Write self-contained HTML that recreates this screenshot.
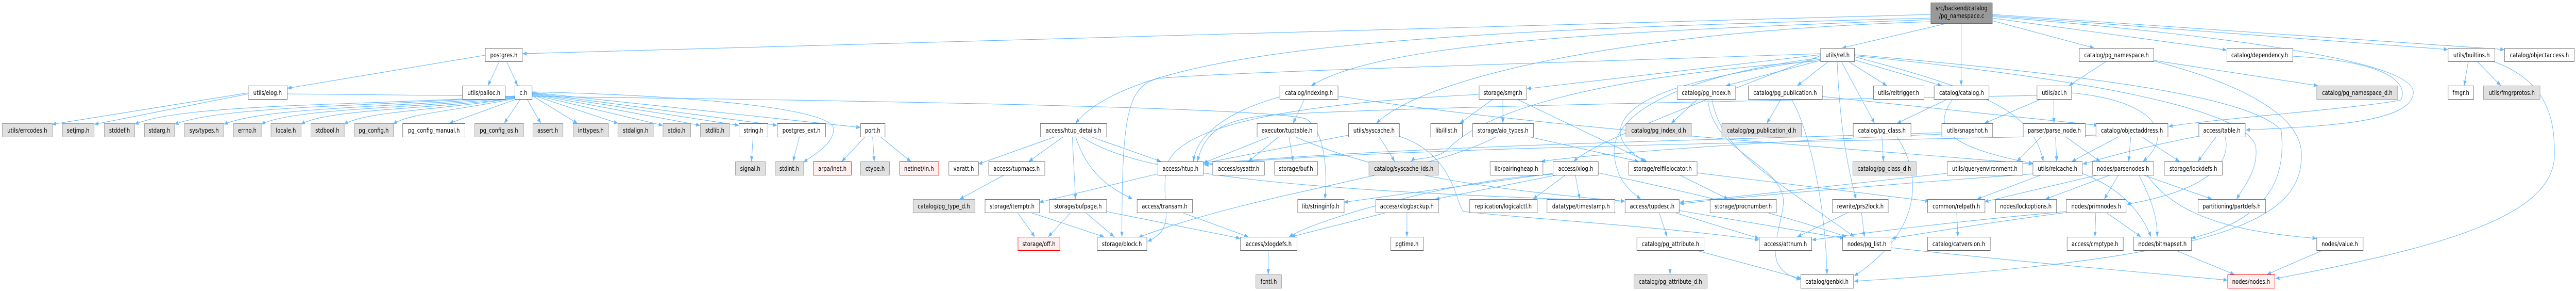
<!DOCTYPE html>
<html><head><meta charset="utf-8"><style>
html,body{margin:0;padding:0;background:#fff;overflow:hidden;}
svg{display:block;width:100vw;height:564px;}
text{font-family:"DejaVu Sans","Liberation Sans",sans-serif;font-size:12.7px;fill:#000;text-anchor:middle;}
.w{fill:#fff;stroke:#666;stroke-width:1;}
.g{fill:#e0e0e0;stroke:#999;stroke-width:1;}
.r{fill:#fff0f0;stroke:#f00;stroke-width:1;}
.root{fill:#999;stroke:#666;stroke-width:1;}
.e path{fill:none;stroke:#63b8ff;stroke-width:1.1;marker-end:url(#a);}
</style></head><body>
<svg xmlns="http://www.w3.org/2000/svg" width="6335" height="564" viewBox="0 0 6335 564" preserveAspectRatio="none">
<defs><marker id="a" markerWidth="10" markerHeight="8" refX="10" refY="4" orient="auto" markerUnits="userSpaceOnUse"><path d="M0,0 L10,4 L0,8 z" fill="#63b8ff"/></marker></defs>
<rect width="6335" height="564" fill="#fff"/>
<g class="e">
<path d="M4748,28 L1285,104"/>
<path d="M4748,35 C3500,60 2800,90 2645,239"/>
<path d="M4748,38 C4000,60 3400,80 3225,166"/>
<path d="M4750,42 C4000,60 3500,150 3385,239"/>
<path d="M4790,45 L4530,93"/>
<path d="M4823,45 L4823,166"/>
<path d="M4899,40 L5150,93"/>
<path d="M4899,35 L5476,97"/>
<path d="M4899,30 L6020,96"/>
<path d="M4899,28 L6159,96"/>
<path d="M4899,32 C5500,70 5940,120 5935,180 S5700,245 5523,252"/>
<path d="M1193,107 L707,171"/>
<path d="M1228,119 L1200,166"/>
<path d="M1246,119 L1273,166"/>
<path d="M610,180 L128,241"/>
<path d="M610,182 L232,241"/>
<path d="M706,182 C1800,190 3100,205 3210,230 C3260,250 3265,340 3258,386"/>
<path d="M1266,186 C900,205 450,200 331,241"/>
<path d="M1266,187 C900,207 550,205 429,241"/>
<path d="M1266,188 C950,209 650,208 550,241"/>
<path d="M1266,189 C1000,211 720,210 642,241"/>
<path d="M1266,190 C1050,212 800,212 740,241"/>
<path d="M1266,190 C1080,214 900,215 846,241"/>
<path d="M1266,191 C1120,215 1000,220 967,241"/>
<path d="M1270,192 L1105,239"/>
<path d="M1280,192 L1240,239"/>
<path d="M1296,192 L1330,239"/>
<path d="M1308,185 L1420,239"/>
<path d="M1308,184 L1520,239"/>
<path d="M1308,183 L1630,243"/>
<path d="M1308,182 L1722,243"/>
<path d="M1308,181 L1817,243"/>
<path d="M1308,180 L1911,243"/>
<path d="M1308,179 L2116,247"/>
<path d="M1308,178 C1700,185 2050,210 2050,250 C2050,280 2000,300 1976,315"/>
<path d="M1852,265 L1848,313"/>
<path d="M1966,265 L1950,313"/>
<path d="M2146,265 L2150,313"/>
<path d="M2165,265 L2240,313"/>
<path d="M2128,265 L2070,313"/>
<path d="M2595,265 L2406,318"/>
<path d="M2615,265 L2530,313"/>
<path d="M2637,265 L2645,386"/>
<path d="M2645,265 C2680,350 2750,370 2785,386"/>
<path d="M2683,265 L2855,313"/>
<path d="M2660,265 C2800,340 3200,370 3996,390"/>
<path d="M2470,339 L2360,386"/>
<path d="M2847,337 L2556,392"/>
<path d="M2502,412 L2545,459"/>
<path d="M2535,412 L2715,459"/>
<path d="M2633,412 L2578,459"/>
<path d="M2670,412 L2740,459"/>
<path d="M2721,410 L3050,462"/>
<path d="M2907,412 L3070,459"/>
<path d="M3119,485 L3119,532"/>
<path d="M3208,192 L3180,239"/>
<path d="M3147,188 C3000,220 2940,270 2935,313"/>
<path d="M3290,186 C3800,250 4600,290 4999,318"/>
<path d="M3122,265 L2959,316"/>
<path d="M3145,265 L3070,313"/>
<path d="M3170,265 L3180,313"/>
<path d="M3185,265 C3400,340 3700,370 3996,390"/>
<path d="M3316,262 L2962,316"/>
<path d="M3392,265 L3430,313"/>
<path d="M3441,264 C3580,300 3580,400 3600,410 C3700,420 4100,440 4326,465"/>
<path d="M3637,183 C3200,200 2900,240 2870,320 C2850,400 2900,440 2822,468"/>
<path d="M3672,192 L3590,239"/>
<path d="M3696,192 L3696,239"/>
<path d="M3730,192 L4050,313"/>
<path d="M3760,265 L4030,313"/>
<path d="M3680,265 C3500,340 3100,370 2800,460"/>
<path d="M4477,106 L3755,172"/>
<path d="M4477,112 C4100,150 3960,230 3970,300 C3975,350 4010,370 4035,386"/>
<path d="M4477,108 C4000,250 3900,290 3870,313"/>
<path d="M4477,104 C3700,125 3000,140 2850,152 C2770,165 2759,230 2759,459"/>
<path d="M4477,115 C4150,150 4000,190 3985,250 C3980,280 4020,300 4045,313"/>
<path d="M4477,117 L4245,166"/>
<path d="M4497,119 L4420,166"/>
<path d="M4518,119 C4525,250 4545,330 4565,386"/>
<path d="M4528,119 L4610,239"/>
<path d="M4545,119 L4640,166"/>
<path d="M4560,116 L4775,166"/>
<path d="M4560,110 C4900,180 5000,220 5025,313"/>
<path d="M4560,106 C5200,150 5534,190 5610,252 C5620,330 5600,420 5389,462"/>
<path d="M4560,108 C5100,150 5540,210 5548,288 C5552,330 5520,360 5500,386"/>
<path d="M4477,118 C3900,150 3640,220 3560,290 C3530,310 3480,305 3470,313"/>
<path d="M3819,336 L3305,392"/>
<path d="M3830,339 L3530,386"/>
<path d="M3819,338 C3600,345 3250,420 3170,459"/>
<path d="M3850,339 L3770,386"/>
<path d="M3874,339 L3885,386"/>
<path d="M3930,335 C4200,380 4400,420 4540,459"/>
<path d="M3410,412 L3175,459"/>
<path d="M3460,412 L3460,459"/>
<path d="M4173,335 L4745,390"/>
<path d="M4130,339 L4250,386"/>
<path d="M4080,412 L4100,459"/>
<path d="M4118,412 L4326,462"/>
<path d="M4129,408 L4535,462"/>
<path d="M4107,485 L4107,532"/>
<path d="M4170,485 L4430,540"/>
<path d="M4175,192 L4110,239"/>
<path d="M4210,192 C4230,290 4350,340 4560,459"/>
<path d="M4200,192 C4210,300 4400,320 4385,400 C4375,460 4330,520 4428,542"/>
<path d="M4380,192 L4345,239"/>
<path d="M4405,192 C4450,250 4490,400 4493,532"/>
<path d="M4481,187 L5160,243"/>
<path d="M4628,265 L4632,313"/>
<path d="M4665,265 C4720,330 4740,440 4560,535"/>
<path d="M4790,192 L4665,239"/>
<path d="M4802,192 C4750,250 4790,285 5000,317"/>
<path d="M5180,119 L5088,166"/>
<path d="M5296,117 L5700,166"/>
<path d="M5296,118 C5500,160 5660,220 5660,300 C5660,420 5500,500 4560,545"/>
<path d="M5009,185 C4300,195 3300,210 3100,225 C3000,235 2960,260 2945,313"/>
<path d="M5020,192 L4880,239"/>
<path d="M5051,192 L5051,239"/>
<path d="M5094,180 C5300,195 5350,260 5270,313"/>
<path d="M4775,257 C4300,270 3500,280 2960,318"/>
<path d="M4775,260 C4300,275 3900,300 3790,313"/>
<path d="M5020,265 L4960,313"/>
<path d="M5055,265 L5058,313"/>
<path d="M5080,265 L5165,313"/>
<path d="M5154,262 C4500,275 3400,285 2962,320"/>
<path d="M5210,265 L5095,313"/>
<path d="M5240,265 L5235,313"/>
<path d="M5267,265 L5360,313"/>
<path d="M5638,109 C5900,120 5920,170 5904,194 C5800,210 5450,230 5333,245"/>
<path d="M5407,264 C5300,280 5200,300 5122,318"/>
<path d="M5450,265 L5405,313"/>
<path d="M5472,265 C5490,320 5420,370 5230,396"/>
<path d="M4788,336 C4500,360 4300,380 4131,392"/>
<path d="M4999,337 C4600,360 4300,380 4131,395"/>
<path d="M5020,339 L4862,386"/>
<path d="M5120,336 C5200,360 5260,400 5290,459"/>
<path d="M5160,339 L4880,391"/>
<path d="M5190,339 L5030,386"/>
<path d="M5210,339 L5175,386"/>
<path d="M5270,339 L5440,386"/>
<path d="M5260,339 C5300,400 5305,430 5305,459"/>
<path d="M5280,339 C5350,420 5500,450 5697,462"/>
<path d="M5081,410 C4800,430 4600,450 4456,465"/>
<path d="M5081,412 C4900,430 4750,450 4652,462"/>
<path d="M5154,412 L5152,459"/>
<path d="M5180,412 L5265,459"/>
<path d="M4545,412 L4420,459"/>
<path d="M4578,412 L4585,459"/>
<path d="M4812,412 L4815,459"/>
<path d="M4650,480 C5000,510 5300,530 5478,543"/>
<path d="M5350,485 L5495,532"/>
<path d="M5712,485 L5575,532"/>
<path d="M6070,119 L6060,166"/>
<path d="M6092,119 L6150,166"/>
<path d="M6131,119 C6280,160 6282,250 6282,300 C6282,420 6000,480 5596,540"/>
</g>

<!-- root -->
<rect class="root" x="4748.5" y="5.5" width="151" height="40"/>
<text x="4824" y="20">src/backend/catalog</text>
<text x="4824" y="35">/pg_namespace.c</text>

<!-- R1 -->
<rect class="w" x="1193.5" y="93.5" width="91" height="26"/><text x="1239" y="111">postgres.h</text>
<rect class="w" x="4477.5" y="93.5" width="83" height="26"/><text x="4519" y="111">utils/rel.h</text>
<rect class="w" x="5113.5" y="93.5" width="183" height="26"/><text x="5205" y="111">catalog/pg_namespace.h</text>
<rect class="w" x="5476.5" y="93.5" width="162" height="26"/><text x="5557" y="111">catalog/dependency.h</text>
<rect class="w" x="6020.5" y="93.5" width="115" height="26"/><text x="6078" y="111">utils/builtins.h</text>
<rect class="w" x="6159.5" y="93.5" width="171" height="26"/><text x="6245" y="111">catalog/objectaccess.h</text>

<!-- R2 -->
<rect class="w" x="610.5" y="166.5" width="96" height="26"/><text x="658" y="184">utils/elog.h</text>
<rect class="w" x="1137.5" y="166.5" width="105" height="26"/><text x="1190" y="184">utils/palloc.h</text>
<rect class="w" x="1266.5" y="166.5" width="42" height="26"/><text x="1287" y="184">c.h</text>
<rect class="w" x="3147.5" y="166.5" width="143" height="26"/><text x="3219" y="184">catalog/indexing.h</text>
<rect class="w" x="3637.5" y="166.5" width="117" height="26"/><text x="3696" y="184">storage/smgr.h</text>
<rect class="w" x="4124.5" y="166.5" width="144" height="26"/><text x="4196" y="184">catalog/pg_index.h</text>
<rect class="w" x="4299.5" y="166.5" width="182" height="26"/><text x="4390" y="184">catalog/pg_publication.h</text>
<rect class="w" x="4607.5" y="166.5" width="124" height="26"/><text x="4669" y="184">utils/reltrigger.h</text>
<rect class="w" x="4756.5" y="166.5" width="135" height="26"/><text x="4824" y="184">catalog/catalog.h</text>
<rect class="w" x="5009.5" y="166.5" width="85" height="26"/><text x="5052" y="184">utils/acl.h</text>
<rect class="g" x="5697.5" y="166.5" width="199" height="26"/><text x="5797" y="184">catalog/pg_namespace_d.h</text>
<rect class="w" x="6020.5" y="166.5" width="63" height="26"/><text x="6052" y="184">fmgr.h</text>
<rect class="g" x="6107.5" y="166.5" width="139" height="26"/><text x="6177" y="184">utils/fmgrprotos.h</text>

<!-- R3 -->
<rect class="g" x="5.5" y="239.5" width="123" height="26"/><text x="67" y="257">utils/errcodes.h</text>
<rect class="g" x="153.5" y="239.5" width="78" height="26"/><text x="192" y="257">setjmp.h</text>
<rect class="g" x="256.5" y="239.5" width="75" height="26"/><text x="294" y="257">stddef.h</text>
<rect class="g" x="355.5" y="239.5" width="74" height="26"/><text x="392" y="257">stdarg.h</text>
<rect class="g" x="453.5" y="239.5" width="97" height="26"/><text x="502" y="257">sys/types.h</text>
<rect class="g" x="574.5" y="239.5" width="68" height="26"/><text x="608" y="257">errno.h</text>
<rect class="g" x="666.5" y="239.5" width="74" height="26"/><text x="703" y="257">locale.h</text>
<rect class="g" x="764.5" y="239.5" width="82" height="26"/><text x="805" y="257">stdbool.h</text>
<rect class="g" x="871.5" y="239.5" width="96" height="26"/><text x="919" y="257">pg_config.h</text>
<rect class="w" x="990.5" y="239.5" width="153" height="26"/><text x="1067" y="257">pg_config_manual.h</text>
<rect class="g" x="1167.5" y="239.5" width="120" height="26"/><text x="1227" y="257">pg_config_os.h</text>
<rect class="g" x="1310.5" y="239.5" width="74" height="26"/><text x="1347" y="257">assert.h</text>
<rect class="g" x="1409.5" y="239.5" width="87" height="26"/><text x="1453" y="257">inttypes.h</text>
<rect class="g" x="1519.5" y="239.5" width="87" height="26"/><text x="1563" y="257">stdalign.h</text>
<rect class="g" x="1630.5" y="239.5" width="68" height="26"/><text x="1664" y="257">stdio.h</text>
<rect class="g" x="1722.5" y="239.5" width="71" height="26"/><text x="1758" y="257">stdlib.h</text>
<rect class="w" x="1817.5" y="239.5" width="71" height="26"/><text x="1853" y="257">string.h</text>
<rect class="w" x="1911.5" y="239.5" width="119" height="26"/><text x="1971" y="257">postgres_ext.h</text>
<rect class="w" x="2116.5" y="239.5" width="60" height="26"/><text x="2146" y="257">port.h</text>
<rect class="w" x="2558.5" y="239.5" width="163" height="26"/><text x="2640" y="257">access/htup_details.h</text>
<rect class="w" x="3091.5" y="239.5" width="148" height="26"/><text x="3165" y="257">executor/tuptable.h</text>
<rect class="w" x="3316.5" y="239.5" width="125" height="26"/><text x="3379" y="257">utils/syscache.h</text>
<rect class="w" x="3518.5" y="239.5" width="78" height="26"/><text x="3557" y="257">lib/ilist.h</text>
<rect class="w" x="3621.5" y="239.5" width="150" height="26"/><text x="3696" y="257">storage/aio_types.h</text>
<rect class="g" x="3998.5" y="239.5" width="161" height="26"/><text x="4079" y="257">catalog/pg_index_d.h</text>
<rect class="g" x="4234.5" y="239.5" width="196" height="26"/><text x="4332" y="257">catalog/pg_publication_d.h</text>
<rect class="w" x="4557.5" y="239.5" width="142" height="26"/><text x="4628" y="257">catalog/pg_class.h</text>
<rect class="w" x="4775.5" y="239.5" width="125" height="26"/><text x="4838" y="257">utils/snapshot.h</text>
<rect class="w" x="4975.5" y="239.5" width="153" height="26"/><text x="5052" y="257">parser/parse_node.h</text>
<rect class="w" x="5154.5" y="239.5" width="177" height="26"/><text x="5243" y="257">catalog/objectaddress.h</text>
<rect class="w" x="5407.5" y="239.5" width="114" height="26"/><text x="5464" y="257">access/table.h</text>

<!-- R4 -->
<rect class="g" x="1808.5" y="313.5" width="74" height="26"/><text x="1845" y="331">signal.h</text>
<rect class="g" x="1906.5" y="313.5" width="70" height="26"/><text x="1941" y="331">stdint.h</text>
<rect class="r" x="2000.5" y="313.5" width="93" height="26"/><text x="2047" y="331">arpa/inet.h</text>
<rect class="g" x="2116.5" y="313.5" width="71" height="26"/><text x="2152" y="331">ctype.h</text>
<rect class="r" x="2212.5" y="313.5" width="96" height="26"/><text x="2260" y="331">netinet/in.h</text>
<rect class="w" x="2333.5" y="313.5" width="73" height="26"/><text x="2370" y="331">varatt.h</text>
<rect class="w" x="2431.5" y="313.5" width="138" height="26"/><text x="2500" y="331">access/tupmacs.h</text>
<rect class="w" x="2847.5" y="313.5" width="112" height="26"/><text x="2903" y="331">access/htup.h</text>
<rect class="w" x="2982.5" y="313.5" width="127" height="26"/><text x="3046" y="331">access/sysattr.h</text>
<rect class="w" x="3134.5" y="313.5" width="106" height="26"/><text x="3187" y="331">storage/buf.h</text>
<rect class="g" x="3366.5" y="313.5" width="171" height="26"/><text x="3452" y="331">catalog/syscache_ids.h</text>
<rect class="w" x="3664.5" y="313.5" width="130" height="26"/><text x="3729" y="331">lib/pairingheap.h</text>
<rect class="w" x="3819.5" y="313.5" width="111" height="26"/><text x="3875" y="331">access/xlog.h</text>
<rect class="w" x="4005.5" y="313.5" width="168" height="26"/><text x="4089" y="331">storage/relfilelocator.h</text>
<rect class="g" x="4556.5" y="313.5" width="156" height="26"/><text x="4634" y="331">catalog/pg_class_d.h</text>
<rect class="w" x="4788.5" y="313.5" width="186" height="26"/><text x="4881" y="331">utils/queryenvironment.h</text>
<rect class="w" x="4999.5" y="313.5" width="121" height="26"/><text x="5060" y="331">utils/relcache.h</text>
<rect class="w" x="5145.5" y="313.5" width="151" height="26"/><text x="5221" y="331">nodes/parsenodes.h</text>
<rect class="w" x="5322.5" y="313.5" width="143" height="26"/><text x="5394" y="331">storage/lockdefs.h</text>

<!-- R5 -->
<rect class="g" x="2245.5" y="386.5" width="152" height="26"/><text x="2321" y="404">catalog/pg_type_d.h</text>
<rect class="w" x="2422.5" y="386.5" width="134" height="26"/><text x="2489" y="404">storage/itemptr.h</text>
<rect class="w" x="2580.5" y="386.5" width="141" height="26"/><text x="2651" y="404">storage/bufpage.h</text>
<rect class="w" x="2796.5" y="386.5" width="136" height="26"/><text x="2864" y="404">access/transam.h</text>
<rect class="w" x="3191.5" y="386.5" width="114" height="26"/><text x="3248" y="404">lib/stringinfo.h</text>
<rect class="w" x="3383.5" y="386.5" width="154" height="26"/><text x="3460" y="404">access/xlogbackup.h</text>
<rect class="w" x="3614.5" y="386.5" width="166" height="26"/><text x="3697" y="404">replication/logicalctl.h</text>
<rect class="w" x="3804.5" y="386.5" width="167" height="26"/><text x="3888" y="404">datatype/timestamp.h</text>
<rect class="w" x="3996.5" y="386.5" width="133" height="26"/><text x="4063" y="404">access/tupdesc.h</text>
<rect class="w" x="4205.5" y="386.5" width="163" height="26"/><text x="4287" y="404">storage/procnumber.h</text>
<rect class="w" x="4506.5" y="386.5" width="137" height="26"/><text x="4575" y="404">rewrite/prs2lock.h</text>
<rect class="w" x="4740.5" y="386.5" width="141" height="26"/><text x="4811" y="404">common/relpath.h</text>
<rect class="w" x="4907.5" y="386.5" width="150" height="26"/><text x="4982" y="404">nodes/lockoptions.h</text>
<rect class="w" x="5081.5" y="386.5" width="147" height="26"/><text x="5155" y="404">nodes/primnodes.h</text>
<rect class="w" x="5405.5" y="386.5" width="166" height="26"/><text x="5488" y="404">partitioning/partdefs.h</text>

<!-- R6 -->
<rect class="r" x="2503.5" y="459.5" width="103" height="26"/><text x="2555" y="477">storage/off.h</text>
<rect class="w" x="2698.5" y="459.5" width="122" height="26"/><text x="2759" y="477">storage/block.h</text>
<rect class="w" x="3050.5" y="459.5" width="139" height="26"/><text x="3120" y="477">access/xlogdefs.h</text>
<rect class="w" x="3420.5" y="459.5" width="80" height="26"/><text x="3460" y="477">pgtime.h</text>
<rect class="w" x="4025.5" y="459.5" width="165" height="26"/><text x="4108" y="477">catalog/pg_attribute.h</text>
<rect class="w" x="4326.5" y="459.5" width="129" height="26"/><text x="4391" y="477">access/attnum.h</text>
<rect class="w" x="4531.5" y="459.5" width="119" height="26"/><text x="4591" y="477">nodes/pg_list.h</text>
<rect class="w" x="4740.5" y="459.5" width="154" height="26"/><text x="4817" y="477">catalog/catversion.h</text>
<rect class="w" x="5083.5" y="459.5" width="138" height="26"/><text x="5152" y="477">access/cmptype.h</text>
<rect class="w" x="5247.5" y="459.5" width="142" height="26"/><text x="5318" y="477">nodes/bitmapset.h</text>
<rect class="w" x="5697.5" y="459.5" width="114" height="26"/><text x="5754" y="477">nodes/value.h</text>

<!-- R7 -->
<rect class="g" x="3088.5" y="532.5" width="63" height="26"/><text x="3120" y="550">fcntl.h</text>
<rect class="g" x="4018.5" y="532.5" width="180" height="26"/><text x="4108" y="550">catalog/pg_attribute_d.h</text>
<rect class="w" x="4428.5" y="532.5" width="130" height="26"/><text x="4493" y="550">catalog/genbki.h</text>
<rect class="r" x="5478.5" y="532.5" width="116" height="26"/><text x="5536" y="550">nodes/nodes.h</text>
</svg>
</body></html>
